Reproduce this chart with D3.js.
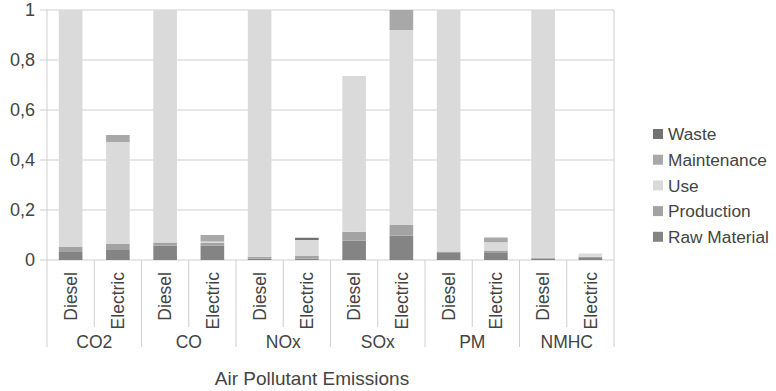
<!DOCTYPE html>
<html>
<head>
<meta charset="utf-8">
<script src="https://cdn.jsdelivr.net/npm/d3@7"></script>
<style>
  html, body { margin: 0; padding: 0; background: #fff; }
  svg { display: block; font-family: "Liberation Sans", Arial, sans-serif; }
</style>
</head>
<body>
<svg id="chart" width="776" height="391"></svg>
<script>
// ---- data ----
const pollutants = ["CO2", "CO", "NOx", "SOx", "PM", "NMHC"];
const vehicles = ["Diesel", "Electric"];
const seriesNames = ["Raw Material", "Production", "Use", "Maintenance", "Waste"]; // bottom -> top
const rawMaterial = [0.032, 0.040, 0.058, 0.058, 0.005, 0.006, 0.077, 0.097, 0.028, 0.031, 0.006, 0.008];
const production  = [0.020, 0.024, 0.012, 0.010, 0.008, 0.010, 0.036, 0.043, 0.006, 0.007, 0.003, 0.005];
const use         = [0.948, 0.408, 0.930, 0.006, 0.987, 0.064, 0.623, 0.780, 0.966, 0.033, 0.991, 0.013];
const maintenance = [0.000, 0.028, 0.000, 0.026, 0.000, 0.000, 0.000, 0.080, 0.000, 0.019, 0.000, 0.000];
const waste       = [0.000, 0.000, 0.000, 0.000, 0.000, 0.009, 0.000, 0.000, 0.000, 0.000, 0.000, 0.000];
const yTicks = [0, 0.2, 0.4, 0.6, 0.8, 1];
const xTitle = "Air Pollutant Emissions";

const colors = {
  "Raw Material": "#848484",
  "Production": "#a3a3a3",
  "Use": "#dadada",
  "Maintenance": "#a8a8a8",
  "Waste": "#727272"
};

// ---- build table ----
const seriesValues = [rawMaterial, production, use, maintenance, waste];
const rows = [];
pollutants.forEach((p, gi) => {
  vehicles.forEach((v, vi) => {
    const i = gi * 2 + vi;
    const r = { key: p + "|" + v, pollutant: p, vehicle: v };
    seriesNames.forEach((s, si) => r[s] = seriesValues[si][i]);
    rows.push(r);
  });
});

const svg = d3.select("#chart");
const mLeft = 47, mRight = 614, mTop = 10, mBottom = 260;

const x = d3.scaleBand().domain(rows.map(d => d.key)).range([mLeft, mRight])
  .paddingInner(0.5).paddingOuter(0.25);
const y = d3.scaleLinear().domain([0, 1]).range([mBottom, mTop]);

const textColor = "#444444";
const gridColor = "#cfcfcf";

// gridlines
svg.append("g").selectAll("line").data(yTicks).join("line")
  .attr("x1", mLeft - 7).attr("x2", mRight)
  .attr("y1", d => y(d)).attr("y2", d => y(d))
  .attr("stroke", gridColor).attr("stroke-width", 1);

// y labels
svg.append("g").selectAll("text").data(yTicks).join("text")
  .attr("x", 35).attr("y", d => y(d)).attr("dy", "0.36em")
  .attr("text-anchor", "end").attr("font-size", 18).attr("fill", textColor)
  .text(d => d === 0 || d === 1 ? String(d) : String(d).replace(".", ","));

// bars
const stack = d3.stack().keys(seriesNames)(rows);
svg.append("g").selectAll("g").data(stack).join("g")
  .attr("fill", s => colors[s.key])
  .selectAll("rect").data(s => s).join("rect")
  .attr("x", d => x(d.data.key))
  .attr("width", x.bandwidth())
  .attr("y", d => y(d[1]))
  .attr("height", d => Math.max(0, y(d[0]) - y(d[1])));

// frame lines
svg.append("line").attr("x1", mLeft).attr("x2", mLeft).attr("y1", mTop).attr("y2", mBottom)
  .attr("stroke", gridColor);
svg.append("line").attr("x1", mRight).attr("x2", mRight).attr("y1", mTop).attr("y2", mBottom)
  .attr("stroke", gridColor);

// x axis separators
const step = x.step();
const groupW = step * 2;
const groupEdges = d3.range(pollutants.length + 1).map(i => mLeft + i * groupW);
svg.append("g").selectAll("line").data(groupEdges).join("line")
  .attr("x1", d => d).attr("x2", d => d).attr("y1", mBottom).attr("y2", 347)
  .attr("stroke", gridColor);
const innerEdges = pollutants.map((p, i) => mLeft + i * groupW + step);
svg.append("g").selectAll("line").data(innerEdges).join("line")
  .attr("x1", d => d).attr("x2", d => d).attr("y1", mBottom).attr("y2", 327)
  .attr("stroke", gridColor);

// vehicle labels
svg.append("g").selectAll("text").data(rows).join("text")
  .attr("transform", d => `translate(${x(d.key) + x.bandwidth() / 2},272) rotate(-90)`)
  .attr("dy", "0.36em")
  .attr("text-anchor", "end").attr("font-size", 17.5).attr("fill", textColor)
  .text(d => d.vehicle);

// group labels
svg.append("g").selectAll("text").data(pollutants).join("text")
  .attr("x", (d, i) => mLeft + i * groupW + groupW / 2)
  .attr("y", 348)
  .attr("text-anchor", "middle").attr("font-size", 17.5).attr("fill", textColor)
  .text(d => d);

// axis title
svg.append("text").attr("x", 312).attr("y", 385)
  .attr("text-anchor", "middle").attr("font-size", 19).attr("fill", textColor)
  .text(xTitle);

// legend
const legendItems = seriesNames.slice().reverse();
const lg = svg.append("g").selectAll("g").data(legendItems).join("g")
  .attr("transform", (d, i) => `translate(653,${134 + i * 25.7})`);
lg.append("rect").attr("x", 0).attr("y", -5).attr("width", 10).attr("height", 10)
  .attr("fill", d => colors[d]);
lg.append("text").attr("x", 15).attr("dy", "0.36em")
  .attr("font-size", 17.3).attr("fill", textColor).text(d => d);
</script>
</body>
</html>
